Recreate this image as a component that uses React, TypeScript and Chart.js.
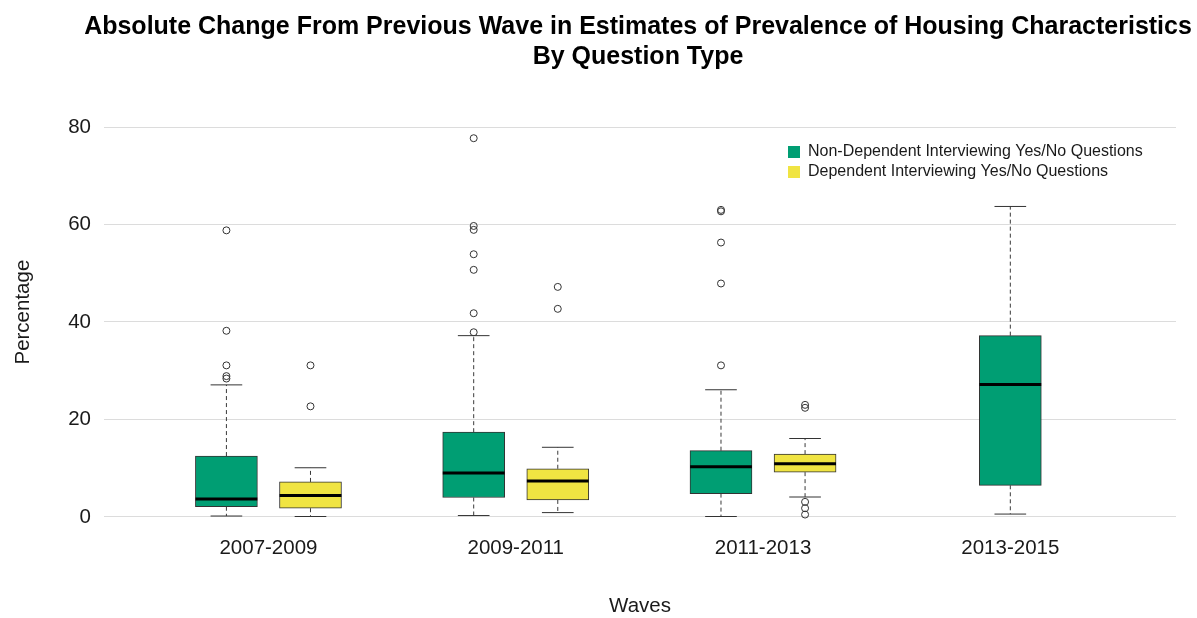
import React, { useEffect, useRef } from 'react';
import { Chart, registerables } from 'chart.js';

Chart.register(...registerables);

// ---------------- data ----------------
const TITLE_LINES = [
  'Absolute Change From Previous Wave in Estimates of Prevalence of Housing Characteristics',
  'By Question Type',
];
const X_TITLE = 'Waves';
const Y_TITLE = 'Percentage';
const WAVES = ['2007-2009', '2009-2011', '2011-2013', '2013-2015'];
const SERIES = ['Non-Dependent Interviewing Yes/No Questions', 'Dependent Interviewing Yes/No Questions'];
const COLORS = ['#009E73', '#F0E442'];

// Non-Dependent Interviewing: whisker ends, quartiles, medians, outliers per wave
const ND_LOWER = [0.2, 0.3, 0.1, 0.6];
const ND_Q1 = [2.1, 4.0, 4.8, 6.5];
const ND_MEDIAN = [3.7, 9.0, 10.3, 27.2];
const ND_Q3 = [12.5, 17.4, 13.6, 37.2];
const ND_UPPER = [27.1, 37.2, 26.1, 63.7];
const ND_OUTLIERS = [
  [58.8, 38.2, 31.1, 28.9, 28.4],
  [77.7, 59.7, 58.9, 53.9, 50.7, 41.8, 37.9],
  [63.0, 62.7, 56.3, 47.9, 31.1],
  [],
];

// Dependent Interviewing (no data for 2013-2015)
const D_LOWER = [0.1, 0.9, 4.1, null];
const D_Q1 = [1.8, 3.5, 9.2, null];
const D_MEDIAN = [4.4, 7.4, 10.9, null];
const D_Q3 = [7.2, 9.9, 12.9, null];
const D_UPPER = [10.1, 14.3, 16.1, null];
const D_OUTLIERS = [[31.1, 22.7], [47.2, 42.7], [23.0, 22.4, 3.1, 1.8, 0.5], []];

const Y_TICKS = [0, 20, 40, 60, 80];

// ---------------- layout / style constants ----------------
const Y_MIN = -3.89;
const Y_MAX = 81.59;
const X_MIN = -0.665;
const X_MAX = 3.67;
const DODGE = 0.17;
const BOX_HALF = 0.125;
const CAP_HALF = 0.064;
const BOX_PX = 62;
const LEGEND_LEFT = 776;
const LEGEND_TOP = 132;
const TITLE_SHIFT_X = -2;
const Y_TITLE_SHIFT = -15.5;
const FONT = "'Liberation Sans', Arial, Helvetica, sans-serif";
const TEXT = '#1a1a1a';

type Box = { x: number; lower: number; q1: number; median: number; q3: number; upper: number; outliers: number[] };

const STATS = [
  [ND_LOWER, ND_Q1, ND_MEDIAN, ND_Q3, ND_UPPER],
  [D_LOWER, D_Q1, D_MEDIAN, D_Q3, D_UPPER],
];
const OUTLIERS = [ND_OUTLIERS, D_OUTLIERS];

function buildBoxes(): Box[][] {
  return STATS.map((st, s) => {
    const out: Box[] = [];
    WAVES.forEach((_, i) => {
      if (st[0][i] == null) return;
      const both = STATS.every((o) => o[0][i] != null);
      const x = both ? i + (s === 0 ? -DODGE : DODGE) : i;
      out.push({
        x,
        lower: st[0][i] as number,
        q1: st[1][i] as number,
        median: st[2][i] as number,
        q3: st[3][i] as number,
        upper: st[4][i] as number,
        outliers: OUTLIERS[s][i],
      });
    });
    return out;
  });
}

const layoutTweaks = {
  id: 'layoutTweaks',
  afterLayout(chart: any) {
    const area = chart.chartArea;
    const t = chart.titleBlock;
    if (t && area) {
      const cx = (area.left + area.right) / 2 + TITLE_SHIFT_X;
      const w = chart.width;
      t.left = cx - w / 2;
      t.right = cx + w / 2;
      t.width = w;
    }
    const lg = chart.legend;
    if (lg) {
      const w = lg.width;
      const h = lg.height;
      lg.left = LEGEND_LEFT;
      lg.top = LEGEND_TOP;
      lg.right = LEGEND_LEFT + w;
      lg.bottom = LEGEND_TOP + h;
    }
    // move only the y-axis title (tick pixels are already configured)
    const ys = chart.scales && chart.scales.y;
    if (ys) {
      ys.top += Y_TITLE_SHIFT;
      ys.bottom += Y_TITLE_SHIFT;
    }
  },
};

export default function App() {
  const ref = useRef<HTMLCanvasElement>(null);

  useEffect(() => {
    if (!ref.current) return;
    document.body.style.margin = '0';
    Chart.defaults.font.family = FONT;
    const boxes = buildBoxes();
    const all = boxes.flat();

    const barSets = boxes.map((bs, s) => ({
      type: 'bar',
      label: SERIES[s],
      data: bs.map((b) => ({ x: b.x, y: [b.q1, b.q3] })),
      backgroundColor: COLORS[s],
      borderColor: '#333333',
      borderWidth: 1,
      borderSkipped: false,
      barThickness: BOX_PX,
      stack: 'boxes',
      order: 3,
    }));

    const whiskers = {
      type: 'line',
      label: '_whiskers',
      data: all.flatMap((b) => [
        { x: b.x, y: b.q3 },
        { x: b.x, y: b.upper },
        { x: b.x, y: null },
        { x: b.x, y: b.q1 },
        { x: b.x, y: b.lower },
        { x: b.x, y: null },
      ]),
      borderColor: '#3a3a3a',
      borderWidth: 1,
      borderDash: [4, 3],
      pointRadius: 0,
      spanGaps: false,
      fill: false,
      order: 4,
    };

    const caps = {
      type: 'line',
      label: '_caps',
      data: all.flatMap((b) => [
        { x: b.x - CAP_HALF, y: b.upper },
        { x: b.x + CAP_HALF, y: b.upper },
        { x: b.x, y: null },
        { x: b.x - CAP_HALF, y: b.lower },
        { x: b.x + CAP_HALF, y: b.lower },
        { x: b.x, y: null },
      ]),
      borderColor: '#333333',
      borderWidth: 1,
      pointRadius: 0,
      spanGaps: false,
      fill: false,
      order: 2,
    };

    const medians = {
      type: 'line',
      label: '_medians',
      data: all.flatMap((b) => [
        { x: b.x - BOX_HALF, y: b.median },
        { x: b.x + BOX_HALF, y: b.median },
        { x: b.x, y: null },
      ]),
      borderColor: '#000000',
      borderWidth: 3,
      borderCapStyle: 'butt',
      pointRadius: 0,
      spanGaps: false,
      fill: false,
      order: 1,
    };

    const outliers = {
      type: 'line',
      label: '_outliers',
      data: all.flatMap((b) => b.outliers.map((v) => ({ x: b.x, y: v }))),
      showLine: false,
      pointStyle: 'circle',
      pointRadius: 3.5,
      pointHoverRadius: 3.5,
      pointBackgroundColor: 'rgba(0,0,0,0)',
      pointBorderColor: '#333333',
      pointBorderWidth: 1,
      order: 0,
    };

    const chart = new Chart(ref.current, {
      type: 'bar',
      data: { datasets: [...barSets, whiskers, caps, medians, outliers] as any },
      options: {
        animation: false,
        responsive: true,
        maintainAspectRatio: false,
        events: [],
        layout: { padding: { left: 0, right: 21, top: 0, bottom: 0 } },
        scales: {
          x: {
            type: 'linear',
            min: X_MIN,
            max: X_MAX,
            offset: false,
            grid: { display: false, offset: false, drawTicks: false },
            border: { display: false },
            afterBuildTicks: (scale: any) => {
              scale.ticks = WAVES.map((_, i) => ({ value: i }));
            },
            ticks: {
              autoSkip: false,
              maxRotation: 0,
              minRotation: 0,
              padding: 0,
              color: TEXT,
              font: { size: 20.5 },
              callback: (_v: any, i: number) => WAVES[i],
            },
            title: {
              display: true,
              text: X_TITLE,
              color: TEXT,
              font: { size: 20.5 },
              padding: { top: 33.84, bottom: -1 },
            },
          },
          y: {
            type: 'linear',
            min: Y_MIN,
            max: Y_MAX,
            stacked: false,
            grid: { color: '#dcdcdc', lineWidth: 1, drawTicks: false },
            border: { display: false },
            afterBuildTicks: (scale: any) => {
              scale.ticks = Y_TICKS.map((v) => ({ value: v }));
            },
            afterFit: (scale: any) => {
              scale.width = 96;
            },
            ticks: {
              padding: 13,
              color: TEXT,
              font: { size: 20.5 },
              callback: (v: any) => String(v),
            },
            title: {
              display: true,
              text: Y_TITLE,
              color: TEXT,
              font: { size: 20.5 },
              padding: { top: 2.7, bottom: 0 },
            },
          },
        },
        plugins: {
          title: {
            display: true,
            text: TITLE_LINES,
            color: '#000000',
            font: { size: 25, weight: 'bold', lineHeight: 1.22 },
            padding: { top: 3.75, bottom: 46.5 },
          },
          legend: {
            display: true,
            position: 'chartArea' as any,
            align: 'start',
            labels: {
              boxWidth: 12,
              boxHeight: 12,
              padding: 4,
              color: TEXT,
              font: { size: 16 },
              generateLabels: (c: any) =>
                (Chart.defaults.plugins.legend.labels.generateLabels as any)(c)
                  .filter((it: any) => it.datasetIndex < SERIES.length)
                  .map((it: any) => ({ ...it, lineWidth: 0, strokeStyle: 'rgba(0,0,0,0)' })),
            },
          },
          tooltip: { enabled: false },
        },
      } as any,
      plugins: [layoutTweaks],
    });
    return () => chart.destroy();
  }, []);

  return (
    <div style={{ paddingLeft: 8, paddingTop: 8, width: 1189, height: 610 }}>
      <div style={{ position: 'relative', width: 1189, height: 610 }}>
        <canvas ref={ref} />
      </div>
    </div>
  );
}
